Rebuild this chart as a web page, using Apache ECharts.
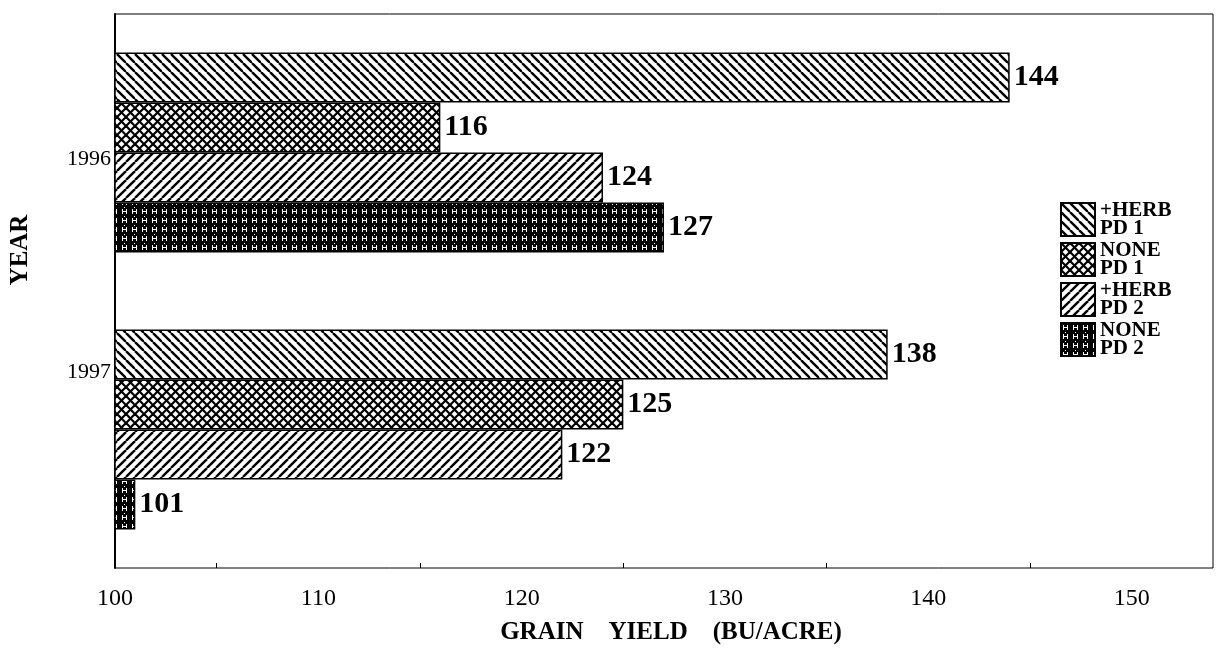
<!DOCTYPE html>
<html>
<head>
<meta charset="utf-8">
<title>Grain yield</title>
<script src="https://cdn.jsdelivr.net/npm/echarts@6/dist/echarts.min.js"></script>
<style>
  html, body { margin: 0; padding: 0; background: #fff; }
  #chart { width: 1231px; height: 656px; }
</style>
</head>
<body>
<div id="chart"></div>
<script>
// data
var years = ["1996", "1997"];
var seriesNames = ["+HERB\nPD 1", "NONE\nPD 1", "+HERB\nPD 2", "NONE\nPD 2"];
var herbPd1 = [144, 138];
var nonePd1 = [116, 125];
var herbPd2 = [124, 122];
var nonePd2 = [127, 101];
var xTicks = [100, 110, 120, 130, 140, 150];

// hatch fills, drawn on small canvases and tiled
function lines(dir) {
  var c = document.createElement("canvas");
  c.width = 9; c.height = 9;
  var g = c.getContext("2d");
  g.fillStyle = "#fff";
  g.fillRect(0, 0, 9, 9);
  g.strokeStyle = "#000";
  g.lineWidth = 2.4;
  for (var k = -1; k <= 1; k++) {
    g.beginPath();
    if (dir > 0) { g.moveTo(k * 9, 0); g.lineTo(k * 9 + 9, 9); }
    else { g.moveTo(k * 9, 9); g.lineTo(k * 9 + 9, 0); }
    g.stroke();
  }
  return { image: c, repeat: "repeat" };
}
function cross() {
  var c = document.createElement("canvas");
  c.width = 9; c.height = 9;
  var g = c.getContext("2d");
  g.fillStyle = "#fff";
  g.fillRect(0, 0, 9, 9);
  g.strokeStyle = "#000";
  g.lineWidth = 2.2;
  for (var k = -1; k <= 1; k++) {
    g.beginPath(); g.moveTo(k * 9, 0); g.lineTo(k * 9 + 9, 9); g.stroke();
    g.beginPath(); g.moveTo(k * 9, 9); g.lineTo(k * 9 + 9, 0); g.stroke();
  }
  return { image: c, repeat: "repeat" };
}
function hh() {
  var c = document.createElement("canvas");
  c.width = 10; c.height = 9;
  var g = c.getContext("2d");
  g.fillStyle = "#000";
  g.fillRect(0, 0, 10, 9);
  g.fillStyle = "#fff";
  g.fillRect(2, 2, 1, 5);
  g.fillRect(6, 2, 1, 5);
  g.fillRect(3, 4, 3, 1);
  g.fillRect(4, 0, 1, 1);
  return { image: c, repeat: "repeat" };
}

var fills = [lines(1), cross(), lines(-1), hh()];
var values = [herbPd1, nonePd1, herbPd2, nonePd2];

var chart = echarts.init(document.getElementById("chart"));

var serif = "'Liberation Serif', 'Times New Roman', serif";

var series = [];
for (var i = 0; i < 4; i++) {
  series.push({
    name: seriesNames[i],
    type: "bar",
    barWidth: 50,
    barGap: "0%",
    data: values[i],
    itemStyle: {
      color: fills[i],
      borderColor: "#000",
      borderWidth: 1.5
    },
    label: {
      show: true,
      position: "right",
      distance: 4,
      color: "#000",
      fontFamily: serif,
      fontWeight: "bold",
      fontSize: 30
    }
  });
}

var option = {
  backgroundColor: "#fff",
  animation: false,
  grid: {
    left: 113,
    right: 18,
    top: 14,
    bottom: 88,
    show: true,
    borderColor: "#000",
    borderWidth: 1
  },
  legend: {
    orient: "vertical",
    left: 1055,
    top: 195,
    icon: "rect",
    itemWidth: 34,
    itemHeight: 33,
    itemGap: 1,
    data: seriesNames,
    itemStyle: { borderColor: "#000", borderWidth: 2 },
    textStyle: {
      color: "#000",
      fontFamily: serif,
      fontWeight: "bold",
      fontSize: 21,
      lineHeight: 18
    }
  },
  xAxis: {
    type: "value",
    min: xTicks[0],
    max: 154,
    interval: 10,
    name: "GRAIN    YIELD    (BU/ACRE)",
    nameLocation: "middle",
    nameGap: 52,
    nameTextStyle: {
      color: "#000",
      fontFamily: serif,
      fontWeight: "bold",
      fontSize: 25,
      padding: [0, 0, 0, 14]
    },
    splitLine: { show: false },
    axisLine: { lineStyle: { color: "#000", width: 2 } },
    axisTick: { inside: true, length: 9, lineStyle: { color: "#000" } },
    minorTick: { show: true, splitNumber: 2, length: 5, lineStyle: { color: "#000" } },
    axisLabel: {
      margin: 19,
      color: "#000",
      fontFamily: serif,
      fontSize: 24,
      formatter: function (v) { return xTicks.indexOf(v) >= 0 ? String(v) : ""; }
    }
  },
  yAxis: {
    type: "category",
    inverse: true,
    data: years,
    name: "YEAR",
    nameLocation: "middle",
    nameRotate: 90,
    nameGap: 82,
    nameTextStyle: {
      color: "#000",
      fontFamily: serif,
      fontWeight: "bold",
      fontSize: 25,
      padding: [0, 0, 0, 82]
    },
    axisLine: { lineStyle: { color: "#000", width: 2 } },
    axisTick: { show: false },
    axisLabel: {
      margin: 4,
      color: "#000",
      fontFamily: serif,
      fontSize: 22,
      formatter: function (v) { return v === "1996" ? "{a|" + v + "}" : "{b|" + v + "}"; },
      rich: {
        a: { fontFamily: serif, fontSize: 22, color: "#000", padding: [14, 0, 0, 0] },
        b: { fontFamily: serif, fontSize: 22, color: "#000", padding: [0, 0, 114, 0] }
      }
    }
  },
  series: series
};

chart.setOption(option);
</script>
</body>
</html>
